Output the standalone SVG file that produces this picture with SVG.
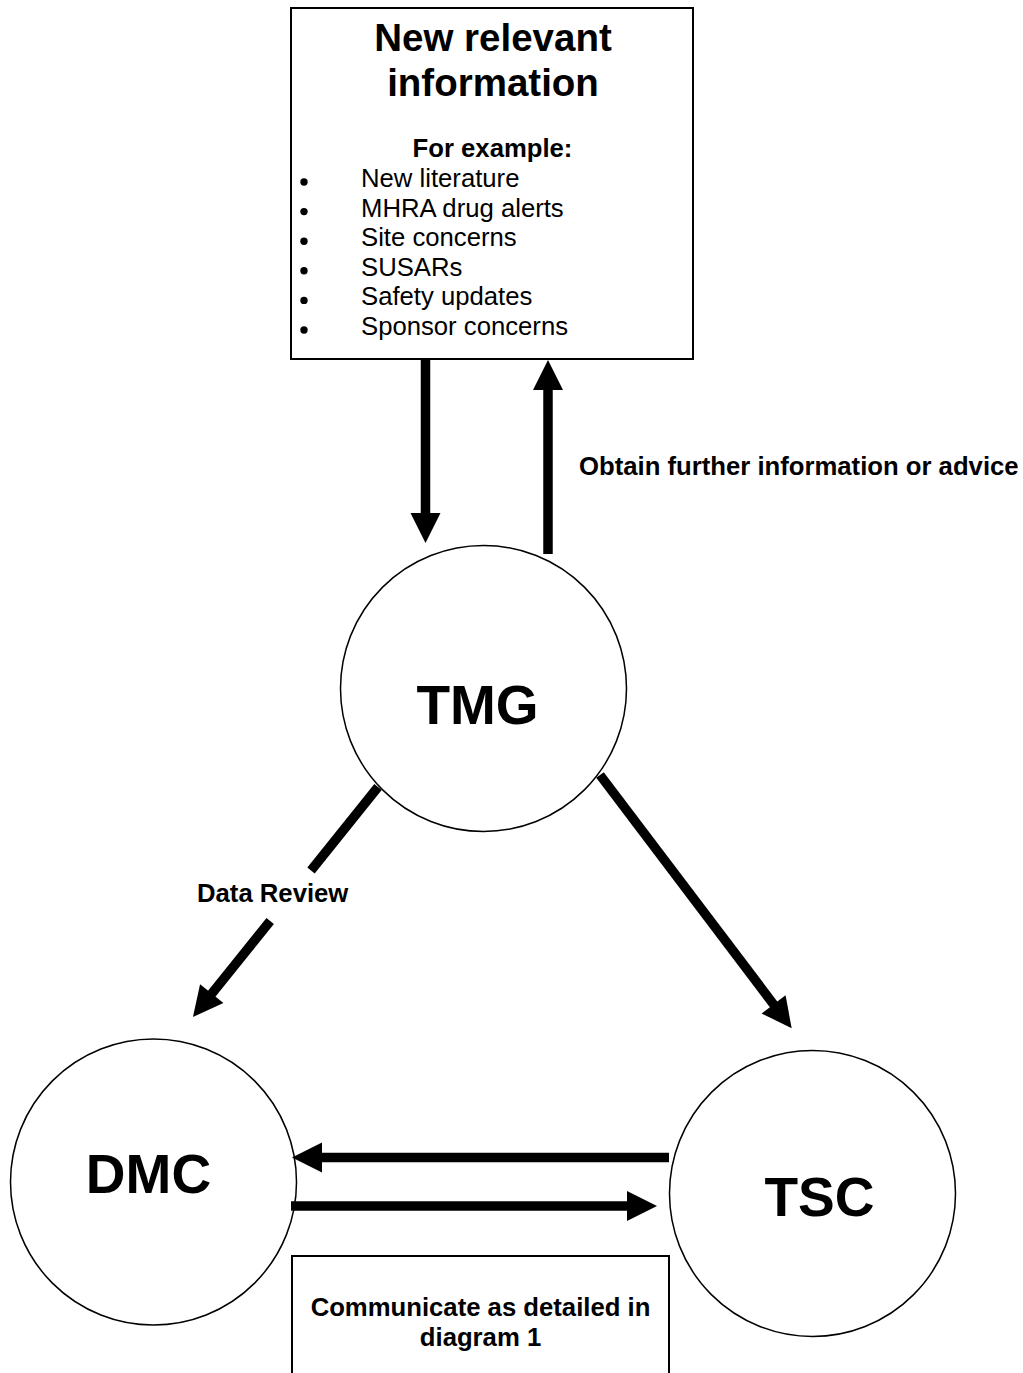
<svg xmlns="http://www.w3.org/2000/svg" width="1023" height="1373" viewBox="0 0 1023 1373">
<style>
.box{fill:#fff;stroke:#000;stroke-width:2}
.node{fill:#fff;stroke:#000;stroke-width:1.5}
.t{font-family:"Liberation Sans",Arial,sans-serif;fill:#000}
.b{font-weight:bold}
.c{text-anchor:middle}
.arr{stroke:#000;stroke-width:9.5;fill:none;stroke-linecap:butt}
</style>
<defs>
<marker id="ah" markerUnits="userSpaceOnUse" markerWidth="30" markerHeight="30" refX="2" refY="15" orient="auto" overflow="visible">
<path d="M0,0 L30,15 L0,30 z" fill="#000"/>
</marker>
</defs>
<rect width="1023" height="1373" fill="#fff"/>
<g id="info">
<rect class="box" x="291" y="8" width="402" height="351"/>
<text class="t b c" x="493" y="51" font-size="38.5">New relevant</text>
<text class="t b c" x="493" y="96" font-size="38.5">information</text>
<text class="t b c" x="492.5" y="157" font-size="25.7">For example:</text>
<g fill="#000">
<circle cx="304" cy="182" r="3.7"/>
<circle cx="304" cy="211.6" r="3.7"/>
<circle cx="304" cy="241.2" r="3.7"/>
<circle cx="304" cy="270.8" r="3.7"/>
<circle cx="304" cy="300.4" r="3.7"/>
<circle cx="304" cy="330" r="3.7"/>
</g>
<g class="t" font-size="25.7">
<text x="361" y="187">New literature</text>
<text x="361" y="217">MHRA drug alerts</text>
<text x="361" y="246">Site concerns</text>
<text x="361" y="276">SUSARs</text>
<text x="361" y="305">Safety updates</text>
<text x="361" y="335">Sponsor concerns</text>
</g>
</g>
<g id="tmg">
<circle class="node" cx="483.5" cy="688.5" r="143"/>
<text class="t b c" x="477.5" y="724" font-size="55">TMG</text>
</g>
<g id="dmc">
<circle class="node" cx="153.5" cy="1182" r="143"/>
<text class="t b c" x="148.5" y="1193" font-size="55">DMC</text>
</g>
<g id="tsc">
<circle class="node" cx="812.5" cy="1193.5" r="143"/>
<text class="t b c" x="819.5" y="1216" font-size="55">TSC</text>
</g>
<g id="note">
<rect class="box" x="292" y="1256" width="377" height="200"/>
<text class="t b c" x="480.5" y="1316" font-size="25.7">Communicate as detailed in</text>
<text class="t b c" x="480.5" y="1346" font-size="25.7">diagram 1</text>
</g>
<g id="connectors">
<line class="arr" x1="425.5" y1="360" x2="425.5" y2="515" marker-end="url(#ah)"/>
<line class="arr" x1="548" y1="554" x2="548" y2="388" marker-end="url(#ah)"/>
<line class="arr" x1="378" y1="787" x2="311" y2="870.5"/>
<line class="arr" x1="270.2" y1="921" x2="210.5" y2="995.2" marker-end="url(#ah)"/>
<line class="arr" x1="600" y1="775" x2="774.8" y2="1006" marker-end="url(#ah)"/>
<line class="arr" x1="669" y1="1157.5" x2="320" y2="1157.5" marker-end="url(#ah)"/>
<line class="arr" x1="291" y1="1206" x2="629" y2="1206" marker-end="url(#ah)"/>
<text class="t b" x="579" y="475" font-size="25.7">Obtain further information or advice</text>
<text class="t b" x="197" y="902" font-size="25.7">Data Review</text>
</g>
</svg>
